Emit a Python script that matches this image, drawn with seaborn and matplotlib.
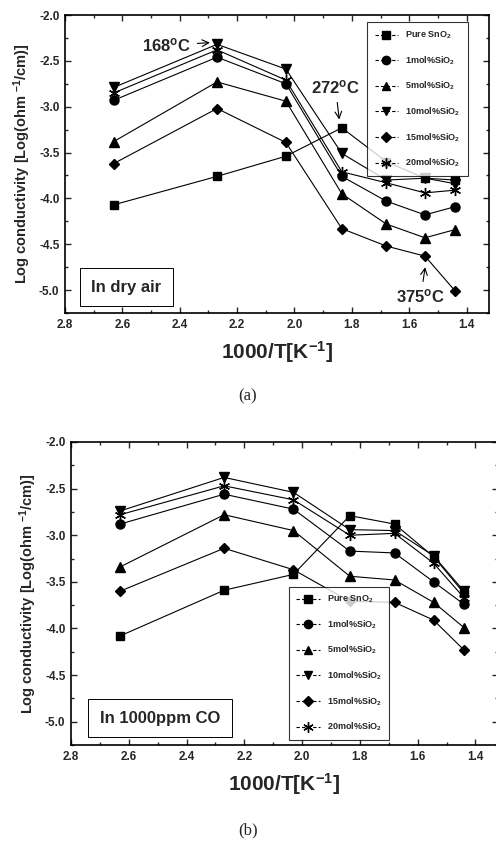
import seaborn as sns
import matplotlib.pyplot as plt
import pandas as pd
from matplotlib.lines import Line2D
from matplotlib.ticker import MultipleLocator

# 1000/T positions of the measurements
inv_temp = [2.63, 2.27, 2.03, 1.835, 1.68, 1.545, 1.44]

samples = ['Pure SnO$_2$', '1mol%SiO$_2$', '5mol%SiO$_2$',
           '10mol%SiO$_2$', '15mol%SiO$_2$', '20mol%SiO$_2$']

# (a) in dry air
air_pure = [-4.07, -3.76, -3.54, -3.23, -3.60, -3.78, -3.80]
air_1 = [-2.93, -2.46, -2.75, -3.76, -4.03, -4.18, -4.09]
air_5 = [-3.38, -2.73, -2.94, -3.95, -4.28, -4.43, -4.34]
air_10 = [-2.79, -2.32, -2.59, -3.51, -3.80, -3.78, -3.84]
air_15 = [-3.62, -3.02, -3.39, -4.33, -4.52, -4.63, -5.01]
air_20 = [-2.85, -2.38, -2.71, -3.71, -3.83, -3.94, -3.91]

# (b) in 1000ppm CO
co_pure = [-4.08, -3.59, -3.42, -2.79, -2.88, -3.23, -3.62]
co_1 = [-2.88, -2.56, -2.72, -3.17, -3.19, -3.50, -3.74]
co_5 = [-3.34, -2.78, -2.95, -3.44, -3.48, -3.72, -3.99]
co_10 = [-2.74, -2.38, -2.54, -2.94, -2.95, -3.22, -3.60]
co_15 = [-3.60, -3.14, -3.37, -3.71, -3.72, -3.91, -4.23]
co_20 = [-2.78, -2.47, -2.62, -3.00, -2.98, -3.30, -3.67]

marker_map = dict(zip(samples, ['s', 'o', '^', 'v', 'D', (6, 2, 0)]))
size_map = dict(zip(samples, [6, 6.5, 6.5, 6.5, 5.5, 8]))


def long_df(series):
    rows = []
    for name, vals in zip(samples, series):
        for x, y in zip(inv_temp, vals):
            rows.append({'x': x, 'y': y, 'sample': name})
    return pd.DataFrame(rows)


sns.set_style('ticks')
plt.rcParams['font.family'] = ['Liberation Sans', 'DejaVu Sans']
plt.rcParams['axes.unicode_minus'] = False
plt.rcParams['mathtext.fontset'] = 'custom'
plt.rcParams['mathtext.rm'] = 'Liberation Sans:bold'
plt.rcParams['mathtext.it'] = 'Liberation Sans:bold'
plt.rcParams['mathtext.bf'] = 'Liberation Sans:bold'

fig = plt.figure(figsize=(4.96, 8.44), dpi=100)
ax_a = fig.add_axes([65 / 496, 1 - 313 / 844, 424 / 496, 298 / 844])
ax_b = fig.add_axes([71 / 496, 1 - 745 / 844, 427 / 496, 303 / 844])


def draw_panel(ax, series):
    df = long_df(series)
    for name in samples:
        sub = df[df['sample'] == name]
        sns.lineplot(data=sub, x='x', y='y', ax=ax, color='black', lw=0.8,
                     marker=marker_map[name], markersize=size_map[name],
                     markeredgecolor='black', markeredgewidth=1.0,
                     sort=False, legend=False)
    ax.set_xlim(2.8, 1.322)
    ax.set_ylim(-5.25, -2.0)
    ax.xaxis.set_major_locator(MultipleLocator(0.2))
    ax.xaxis.set_minor_locator(MultipleLocator(0.1))
    ax.yaxis.set_major_locator(MultipleLocator(0.5))
    ax.yaxis.set_minor_locator(MultipleLocator(0.25))
    ax.tick_params(which='both', direction='in', top=True, right=True,
                   width=1.0, labelsize=8.5, pad=4)
    ax.tick_params(which='major', length=4)
    ax.tick_params(which='minor', length=2)
    for lab in ax.get_xticklabels() + ax.get_yticklabels():
        lab.set_fontweight('bold')
    for sp in ax.spines.values():
        sp.set_linewidth(1.2)
        sp.set_color('black')
    ax.set_xlabel('1000/T[K$^{-1}$]', fontsize=15, fontweight='bold', labelpad=6)
    ax.set_ylabel('Log conductivity [Log(ohm $^{-1}$/cm)]', fontsize=10.5,
                  fontweight='bold', labelpad=4)
    handles = [Line2D([], [], color='black', lw=0.8, ls=(0, (3, 2)),
                      marker=marker_map[n], markersize=size_map[n] - 0.5,
                      markeredgecolor='black') for n in samples]
    return handles


leg_font = {'size': 6.5, 'weight': 'bold'}

h = draw_panel(ax_a, [air_pure, air_1, air_5, air_10, air_15, air_20])
leg = ax_a.legend(h, samples, loc='upper right', bbox_to_anchor=(0.96, 0.99),
                  prop=leg_font, labelspacing=1.45, handlelength=2.6,
                  frameon=True, fancybox=False, edgecolor='black', borderpad=0.8)
leg.get_frame().set_linewidth(0.8)

h = draw_panel(ax_b, [co_pure, co_1, co_5, co_10, co_15, co_20])
leg = ax_b.legend(h, samples, loc='lower left', bbox_to_anchor=(0.50, 0.0),
                  prop=leg_font, labelspacing=1.45, handlelength=2.6,
                  frameon=True, fancybox=False, edgecolor='black', borderpad=0.8)
leg.get_frame().set_linewidth(0.8)

# annotations on panel (a)
ax_a.annotate('168$^{\\rm o}$C', xy=(2.285, -2.30), xytext=(2.445, -2.33),
              fontsize=12, fontweight='bold', ha='center', va='center',
              arrowprops=dict(arrowstyle='->', color='black', lw=0.8))
ax_a.annotate('272$^{\\rm o}$C', xy=(1.843, -3.17), xytext=(1.857, -2.79),
              fontsize=12, fontweight='bold', ha='center', va='center',
              arrowprops=dict(arrowstyle='->', color='black', lw=0.8))
ax_a.annotate('375$^{\\rm o}$C', xy=(1.543, -4.72), xytext=(1.560, -5.07),
              fontsize=12, fontweight='bold', ha='center', va='center',
              arrowprops=dict(arrowstyle='->', color='black', lw=0.8))

box = dict(boxstyle='square,pad=0.7', facecolor='white', edgecolor='black', lw=0.7)
ax_a.text(0.145, 0.087, 'In dry air', transform=ax_a.transAxes, fontsize=12,
          fontweight='bold', ha='center', va='center', bbox=box)
ax_b.text(0.208, 0.089, 'In 1000ppm CO', transform=ax_b.transAxes, fontsize=12,
          fontweight='bold', ha='center', va='center', bbox=box)

fig.text(0.5, 1 - 396 / 844, '(a)', ha='center', va='center', fontsize=12,
         family=['Liberation Serif', 'DejaVu Serif'])
fig.text(0.5, 1 - 830 / 844, '(b)', ha='center', va='center', fontsize=12,
         family=['Liberation Serif', 'DejaVu Serif'])

fig.savefig('out.png', dpi=100)
